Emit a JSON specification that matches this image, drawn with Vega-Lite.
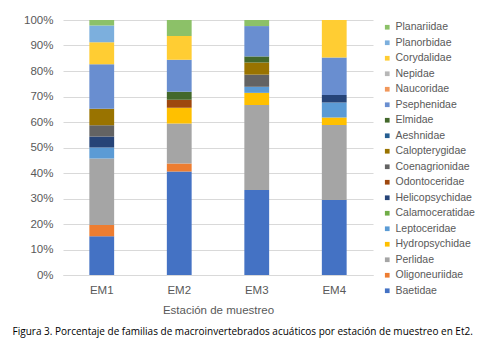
{
  "$schema": "https://vega.github.io/schema/vega-lite/v6.json",
  "autosize": {"type": "none"},
  "padding": {"left": 63, "top": 20, "right": 121, "bottom": 76},
  "width": 310,
  "height": 255,
  "background": "white",
  "config": {
    "view": {"stroke": null},
    "font": "Liberation Sans"
  },
  "title": {
    "text": "Figura 3. Porcentaje de familias de macroinvertebrados acuáticos por estación de muestreo en Et2.",
    "orient": "bottom",
    "anchor": "start",
    "frame": "bounds",
    "font": "Open Sans",
    "fontSize": 10,
    "fontWeight": "normal",
    "color": "#000000",
    "offset": 11,
    "dx": -11
  },
  "data": {
    "values": [
      {"estacion": "EM1", "familia": "Baetidae", "orden": 1, "n": 7},
      {"estacion": "EM1", "familia": "Oligoneuriidae", "orden": 2, "n": 2},
      {"estacion": "EM1", "familia": "Perlidae", "orden": 3, "n": 12},
      {"estacion": "EM1", "familia": "Leptoceridae", "orden": 5, "n": 2},
      {"estacion": "EM1", "familia": "Helicopsychidae", "orden": 7, "n": 2},
      {"estacion": "EM1", "familia": "Coenagrionidae", "orden": 9, "n": 2},
      {"estacion": "EM1", "familia": "Calopterygidae", "orden": 10, "n": 3},
      {"estacion": "EM1", "familia": "Psephenidae", "orden": 13, "n": 8},
      {"estacion": "EM1", "familia": "Corydalidae", "orden": 16, "n": 4},
      {"estacion": "EM1", "familia": "Planorbidae", "orden": 17, "n": 3},
      {"estacion": "EM1", "familia": "Planariidae", "orden": 18, "n": 1},
      {"estacion": "EM2", "familia": "Baetidae", "orden": 1, "n": 13},
      {"estacion": "EM2", "familia": "Oligoneuriidae", "orden": 2, "n": 1},
      {"estacion": "EM2", "familia": "Perlidae", "orden": 3, "n": 5},
      {"estacion": "EM2", "familia": "Hydropsychidae", "orden": 4, "n": 2},
      {"estacion": "EM2", "familia": "Odontoceridae", "orden": 8, "n": 1},
      {"estacion": "EM2", "familia": "Elmidae", "orden": 12, "n": 1},
      {"estacion": "EM2", "familia": "Psephenidae", "orden": 13, "n": 4},
      {"estacion": "EM2", "familia": "Corydalidae", "orden": 16, "n": 3},
      {"estacion": "EM2", "familia": "Planariidae", "orden": 18, "n": 2},
      {"estacion": "EM3", "familia": "Baetidae", "orden": 1, "n": 14},
      {"estacion": "EM3", "familia": "Perlidae", "orden": 3, "n": 14},
      {"estacion": "EM3", "familia": "Hydropsychidae", "orden": 4, "n": 2},
      {"estacion": "EM3", "familia": "Leptoceridae", "orden": 5, "n": 1},
      {"estacion": "EM3", "familia": "Coenagrionidae", "orden": 9, "n": 2},
      {"estacion": "EM3", "familia": "Calopterygidae", "orden": 10, "n": 2},
      {"estacion": "EM3", "familia": "Elmidae", "orden": 12, "n": 1},
      {"estacion": "EM3", "familia": "Psephenidae", "orden": 13, "n": 5},
      {"estacion": "EM3", "familia": "Planariidae", "orden": 18, "n": 1},
      {"estacion": "EM4", "familia": "Baetidae", "orden": 1, "n": 10},
      {"estacion": "EM4", "familia": "Perlidae", "orden": 3, "n": 10},
      {"estacion": "EM4", "familia": "Hydropsychidae", "orden": 4, "n": 1},
      {"estacion": "EM4", "familia": "Leptoceridae", "orden": 5, "n": 2},
      {"estacion": "EM4", "familia": "Helicopsychidae", "orden": 7, "n": 1},
      {"estacion": "EM4", "familia": "Psephenidae", "orden": 13, "n": 5},
      {"estacion": "EM4", "familia": "Corydalidae", "orden": 16, "n": 5}
    ]
  },
  "mark": {"type": "bar"},
  "encoding": {
    "x": {
      "field": "estacion",
      "type": "nominal",
      "scale": {"paddingInner": 0.68, "paddingOuter": 0.34},
      "axis": {
        "title": "Estación de muestreo",
        "labelAngle": 0,
        "labelFontSize": 11.5,
        "labelColor": "#595959",
        "labelPadding": 9,
        "ticks": false,
        "domain": true,
        "domainColor": "#d9d9d9",
        "titleFontSize": 11.5,
        "titleFontWeight": "normal",
        "titleColor": "#595959",
        "titlePadding": 9
      }
    },
    "y": {
      "field": "n",
      "type": "quantitative",
      "aggregate": "sum",
      "stack": "normalize",
      "scale": {"domain": [0, 1], "nice": false},
      "axis": {
        "title": null,
        "format": ".0%",
        "values": [0, 0.1, 0.2, 0.3, 0.4, 0.5, 0.6, 0.7, 0.8, 0.9, 1],
        "labelFontSize": 11.5,
        "labelColor": "#595959",
        "labelPadding": 10,
        "ticks": false,
        "domain": false,
        "grid": true,
        "gridColor": "#d9d9d9"
      }
    },
    "order": {"field": "orden", "type": "quantitative", "sort": "ascending"},
    "color": {
      "field": "familia",
      "type": "nominal",
      "scale": {
        "domain": ["Planariidae", "Planorbidae", "Corydalidae", "Nepidae", "Naucoridae", "Psephenidae", "Elmidae", "Aeshnidae", "Calopterygidae", "Coenagrionidae", "Odontoceridae", "Helicopsychidae", "Calamoceratidae", "Leptoceridae", "Hydropsychidae", "Perlidae", "Oligoneuriidae", "Baetidae"],
        "range": ["#8CC168", "#7CAFDD", "#FFCD33", "#B7B7B7", "#F1975A", "#698ED0", "#43682B", "#255E91", "#997300", "#636363", "#9E480E", "#264478", "#70AD47", "#5B9BD5", "#FFC000", "#A5A5A5", "#ED7D31", "#4472C4"]
      },
      "legend": {
        "title": null,
        "orient": "none",
        "legendX": 319,
        "legendY": 2,
        "padding": 0,
        "symbolType": "square",
        "symbolSize": 22,
        "symbolStrokeWidth": 0,
        "labelFontSize": 10.5,
        "labelColor": "#595959",
        "labelOffset": 3,
        "rowPadding": 4.5
      }
    }
  }
}
